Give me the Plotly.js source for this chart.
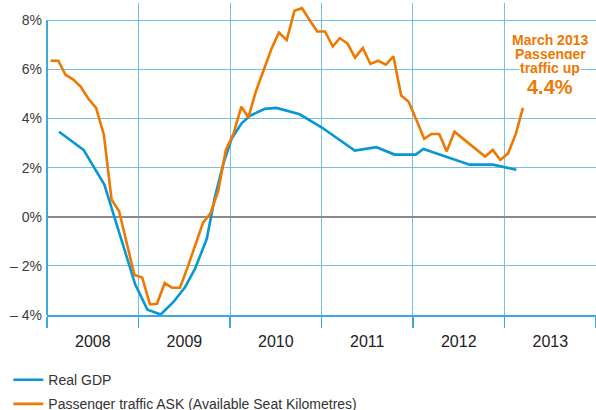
<!DOCTYPE html>
<html>
<head>
<meta charset="utf-8">
<script src="https://cdn.plot.ly/plotly-3.0.1.min.js"></script>
<style>html,body{margin:0;padding:0;background:#fff;}#chart{width:596px;height:410px;}</style>
</head>
<body>
<div id="chart"></div>
<script>
// Real GDP (year-on-year %)
var gdpDates = ['2008-02-18','2008-05-26','2008-08-17','2008-09-22','2008-11-08','2008-12-18',
  '2009-02-05','2009-03-30','2009-05-19','2009-07-05','2009-08-14','2009-09-30','2009-11-01','2009-12-05',
  '2010-01-07','2010-02-16','2010-03-21','2010-05-20','2010-07-05','2010-10-06',
  '2011-01-01','2011-05-14','2011-08-08','2011-10-20',
  '2012-01-12','2012-02-12','2012-08-14','2012-11-15','2013-02-17'];
var gdpValues = [3.46,2.72,1.31,0.12,-1.37,-2.75,
  -3.78,-3.98,-3.48,-2.87,-2.12,-0.9,0.79,2.15,
  3.17,3.8,4.11,4.39,4.43,4.17,
  3.64,2.69,2.83,2.53,
  2.53,2.76,2.12,2.12,1.91];

// Passenger traffic ASK (monthly, %)
var askDates = ['2008-01-15','2008-02-15','2008-03-15','2008-04-15','2008-05-15','2008-06-15','2008-07-15','2008-08-15','2008-09-15','2008-10-15','2008-11-15','2008-12-15',
  '2009-01-15','2009-02-15','2009-03-15','2009-04-15','2009-05-15','2009-06-15','2009-07-15','2009-08-15','2009-09-15','2009-10-15','2009-11-15','2009-12-15',
  '2010-01-15','2010-02-15','2010-03-15','2010-04-15','2010-05-15','2010-06-15','2010-07-15','2010-08-15','2010-09-15','2010-10-15','2010-11-15','2010-12-15',
  '2011-01-15','2011-02-15','2011-03-15','2011-04-15','2011-05-15','2011-06-15','2011-07-15','2011-08-15','2011-09-15','2011-10-15','2011-11-15','2011-12-15',
  '2012-01-15','2012-02-15','2012-03-15','2012-04-15','2012-05-15','2012-06-15','2012-07-15','2012-08-15','2012-09-15','2012-10-15','2012-11-15','2012-12-15',
  '2013-01-15','2013-02-15','2013-03-15'];
var askValues = [6.35,6.35,5.78,5.58,5.29,4.79,4.43,3.34,0.69,0.22,-1.10,-2.37,
  -2.47,-3.57,-3.54,-2.70,-2.89,-2.89,-2.07,-1.12,-0.24,0.14,1.07,2.72,
  3.39,4.48,4.04,5.13,6.01,6.83,7.50,7.19,8.38,8.49,8.0,7.54,
  7.54,6.93,7.27,7.05,6.48,6.87,6.22,6.35,6.19,6.53,4.93,4.68,
  3.94,3.17,3.37,3.37,2.66,3.46,3.21,2.96,2.70,2.45,2.72,2.31,
  2.58,3.37,4.43];

var yTickVals = [-4,-2,0,2,4,6,8];
var yTickText = ['\u2013 4%','\u2013 2%','0%','2%','4%','6%','8%'];
var seriesNames = ['Real GDP','Passenger traffic ASK (Available Seat Kilometres)'];
var noteLines = ['March 2013','Passenger','traffic up'];
var noteValue = '4.4%';

var BLUE = '#0896D5', ORANGE = '#EE7800', GRID = '#74C1E8', AXIS = '#3EA9DE';
var FONT = 'Liberation Sans, Arial, sans-serif';

var traces = [
  {x: gdpDates, y: gdpValues, type: 'scatter', mode: 'lines', name: seriesNames[0], legendgroup:'g1',
   line: {color: BLUE, width: 2.6}},
  {x: askDates, y: askValues, type: 'scatter', mode: 'lines', name: seriesNames[1], legendgroup:'g2',
   line: {color: ORANGE, width: 2.6}}
];

var noteY = [0.881, 0.8356, 0.7907];
var annotations = noteLines.map(function(t, i){
  return {xref:'paper', yref:'paper', x:0.917, y:noteY[i], text:'<b>'+t+'</b>', showarrow:false,
    xanchor:'center', yanchor:'middle', bgcolor:'#fff', borderpad:0,
    font:{family:FONT, size:14, color:ORANGE}};
});
annotations.push({xref:'paper', yref:'paper', x:0.917, y:0.7317, text:'<b>'+noteValue+'</b>', showarrow:false,
  xanchor:'center', yanchor:'middle', bgcolor:'#fff', borderpad:0,
  font:{family:FONT, size:20, color:ORANGE}});

var layout = {
  width: 596, height: 410,
  margin: {l: 47, r: 0, t: 3, b: 95, autoexpand: false},
  paper_bgcolor: '#fff', plot_bgcolor: '#fff',
  font: {family: FONT, color: '#333'},
  showlegend: true,
  legend: {xref:'container', yref:'container', x: 0.014, y: 0.112, xanchor:'left', yanchor:'top',
    orientation:'v', traceorder:'grouped', tracegroupgap:3,
    font:{family:FONT, size:14, color:'#333'}, bgcolor:'rgba(0,0,0,0)'},
  xaxis: {type:'date', range:['2008-01-01','2014-01-01'], tick0:'2008-01-01', dtick:'M12',
    tickformat:'%Y', ticklabelmode:'period', showgrid:true, gridcolor:GRID, gridwidth:1,
    showline:true, linecolor:AXIS, linewidth:2, ticks:'outside', ticklen:11, tickwidth:1.5, tickcolor:AXIS,
    tickfont:{family:FONT, size:16, color:'#222'}, zeroline:false, fixedrange:true, automargin:false},
  yaxis: {range:[-4, 8.7], tickvals:yTickVals, ticktext:yTickText, showgrid:true, gridcolor:GRID, gridwidth:1,
    zeroline:true, zerolinecolor:'#8a8a8a', zerolinewidth:2, showline:false, ticks:'',
    ticklabelstandoff:4, tickfont:{family:FONT, size:14, color:'#3a3a3a'}, fixedrange:true, automargin:false},
  shapes: [
    {type:'line', xref:'paper', yref:'y', x0:0, x1:0, y0:-4, y1:8, line:{color:AXIS, width:2}}
  ],
  annotations: annotations
};

Plotly.newPlot('chart', traces, layout, {displayModeBar:false, staticPlot:true});
</script>
</body>
</html>
